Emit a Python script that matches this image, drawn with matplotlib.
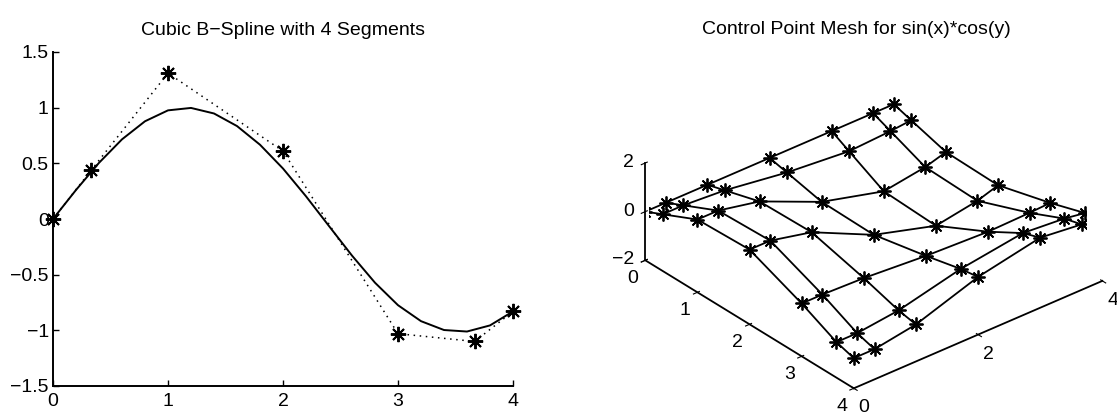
import matplotlib
matplotlib.use('Agg')
import matplotlib.pyplot as plt
import numpy as np

plt.rcParams['font.family'] = ['Liberation Sans', 'DejaVu Sans']

# knot vector of the clamped cubic spline, 4 segments on [0,4]
knots = [0, 0, 0, 0, 1, 2, 3, 4, 4, 4, 4]
# control point abscissae (Greville points) and ordinates
ctrl_x = [0, 1/3, 1, 2, 3, 11/3, 4]
ctrl_y = [0, 0.44, 1.31, 0.61, -1.03, -1.10, -0.83]

# control point mesh for sin(x)*cos(y); rows run along x, columns along y
mesh_z = [
    [0.00, 0.00, 0.00, 0.00, 0.00, 0.00, 0.00],
    [0.33, 0.33, 0.21, -0.16, -0.39, -0.30, -0.22],
    [0.99, 0.99, 0.63, -0.49, -1.16, -0.90, -0.65],
    [1.07, 1.07, 0.68, -0.53, -1.26, -0.97, -0.70],
    [0.17, 0.17, 0.11, -0.08, -0.19, -0.15, -0.11],
    [-0.54, -0.54, -0.34, 0.26, 0.63, 0.49, 0.35],
    [-0.76, -0.76, -0.48, 0.37, 0.88, 0.69, 0.50],
]

ASTER = (8, 2, 0)   # 8-spoke asterisk marker


def bspline_basis(t, knots, deg):
    # Cox-de Boor recursion, returns len(t) x n_basis matrix
    t = np.asarray(t, dtype=float)
    k = np.asarray(knots, dtype=float)
    n = len(k) - 1
    B = np.zeros((len(t), n))
    for i in range(n):
        B[:, i] = (t >= k[i]) & (t < k[i + 1])
    last = np.where(k[:-1] < k[1:])[0][-1]
    B[t == k[-1], last] = 1.0
    for d in range(1, deg + 1):
        Bn = np.zeros((len(t), n - d))
        for i in range(n - d):
            a = 0.0
            if k[i + d] != k[i]:
                a = (t - k[i]) / (k[i + d] - k[i]) * B[:, i]
            b = 0.0
            if k[i + d + 1] != k[i + 1]:
                b = (k[i + d + 1] - t) / (k[i + d + 1] - k[i + 1]) * B[:, i + 1]
            Bn[:, i] = a + b
        B = Bn
    return B


tt = np.linspace(0, 4, 21)
curve = bspline_basis(tt, knots, 3) @ np.array(ctrl_y)

fig = plt.figure(figsize=(11.17, 4.15), dpi=100)

# ---- left: the spline and its control polygon
ax1 = fig.add_axes([53/1117, 1 - 386/415, (513-53)/1117, (386-52)/415])
ax1.plot(tt, curve, 'k-', lw=1.4)
ax1.plot(ctrl_x, ctrl_y, color='k', ls=(0, (1, 3)), lw=1.1)
ax1.plot(ctrl_x, ctrl_y, color='k', marker=ASTER, ms=11, mew=1.4, ls='none',
         clip_on=False)
ax1.set_xlim(0, 4)
ax1.set_ylim(-1.5, 1.5)
ax1.set_xticks([0, 1, 2, 3, 4])
ax1.set_yticks([-1.5, -1, -0.5, 0, 0.5, 1, 1.5])
ax1.set_yticklabels(['\u22121.5', '\u22121', '\u22120.5', '0', '0.5', '1', '1.5'])
for s in ['top', 'right']:
    ax1.spines[s].set_visible(False)
ax1.spines['left'].set_linewidth(1.4)
ax1.spines['bottom'].set_linewidth(1.4)
ax1.tick_params(direction='in', length=4, width=1, labelsize=14, pad=3)
ax1.tick_params(axis='x', pad=5)
ax1.set_title('Cubic B\u2212Spline with 4 Segments', fontsize=14, pad=12)

# ---- right: control point mesh in 3d
ax2 = fig.add_axes([0.527, -0.0755, 0.5, 1.053], projection='3d')
Z = np.array(mesh_z)
gx = np.array(ctrl_x)
for i in range(len(gx)):
    ax2.plot(np.full(len(gx), gx[i]), gx, Z[i], 'k-', lw=1.3)
    ax2.plot(gx, np.full(len(gx), gx[i]), Z[:, i], 'k-', lw=1.3)
X, Y = np.meshgrid(gx, gx, indexing='ij')
ax2.plot(X.ravel(), Y.ravel(), Z.ravel(), color='k', marker=ASTER, ms=10,
         mew=1.3, ls='none')

ax2.set_proj_type('ortho')
ax2.view_init(elev=31, azim=-40)
ax2.set_box_aspect((1, 1, 0.35), zoom=1.05)
ax2.set_xlim(0, 4)
ax2.set_ylim(0, 4)
ax2.set_zlim(-2, 2)
ax2.set_xticks([0, 1, 2, 3, 4])
ax2.set_yticks([0, 2, 4])
ax2.set_zticks([-2, 0, 2])
ax2.set_zticklabels(['\u22122', '0', '2'])
ax2.zaxis.set_ticks_position('lower')
ax2.grid(False)
for axis in [ax2.xaxis, ax2.yaxis, ax2.zaxis]:
    axis.pane.set_visible(False)
    axis.line.set_color('k')
    axis.line.set_linewidth(1.3)
    axis.set_tick_params(labelsize=14)
ax2.xaxis.set_tick_params(pad=0)
ax2.yaxis.set_tick_params(pad=0)
ax2.zaxis.set_tick_params(pad=-4)
# z labels sit to the left of their ticks, centred on them
for lbl in ax2.zaxis.get_majorticklabels():
    lbl.set_horizontalalignment('right')
    lbl.set_verticalalignment('center')
fig.text(856/1117, 1 - 29/415, 'Control Point Mesh for sin(x)*cos(y)',
         fontsize=14, ha='center', va='center')

fig.savefig('out.png', dpi=100)
